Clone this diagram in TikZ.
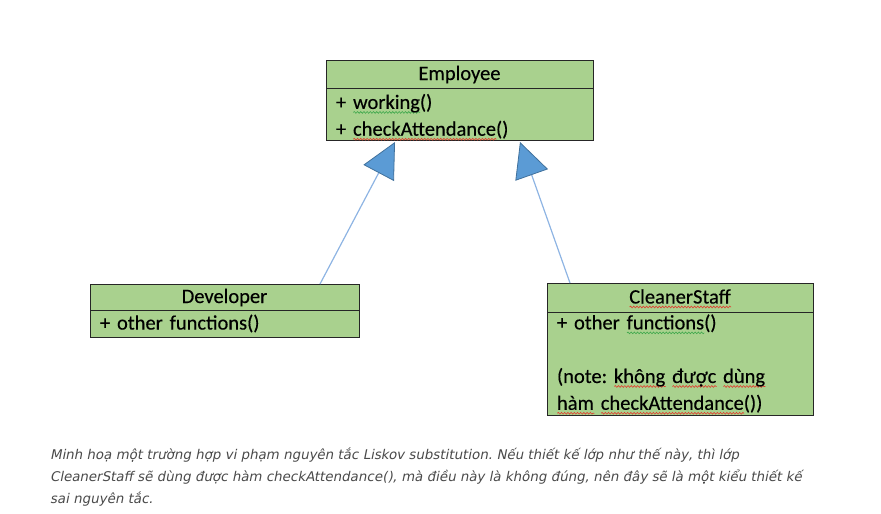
\documentclass[tikz,border=0pt]{standalone}
\usepackage{fontspec}
\usetikzlibrary{arrows.meta,decorations.pathmorphing}
\newfontfamily\umlfont{Carlito}[FakeBold=0.3]
\newfontfamily\notefont{DejaVu Sans}[FakeSlant=0.2]
\definecolor{umlgreen}{HTML}{A9D18E}
\definecolor{umlline}{HTML}{262626}
\definecolor{arrowfill}{HTML}{5B9BD5}
\definecolor{arrowedge}{HTML}{41719C}
\definecolor{arrowline}{HTML}{8EB4E3}
\definecolor{squigred}{HTML}{E23B2E}
\definecolor{squiggreen}{HTML}{3DA84A}
\definecolor{notegray}{HTML}{4A4A4A}
\newsavebox{\sqbox}
% word with a spell-check squiggle under it
\newcommand{\sq}[2]{\leavevmode\sbox{\sqbox}{#2}\rlap{\smash{\tikz[baseline=0pt]\draw[#1, line width=0.6pt, decorate,
	decoration={snake, amplitude=0.9pt, segment length=3.2pt}] (0pt,-3.5pt) -- (\wd\sqbox,-3.5pt);}}\usebox{\sqbox}}

\begin{document}
\begin{tikzpicture}[x=1pt,y=-1pt,
		classbox/.style={draw=umlline, fill=umlgreen, line width=0.9pt, outer sep=0pt,
			font=\umlfont\fontsize{20.5}{26.8}\selectfont\frenchspacing},
		classhead/.style={classbox, inner sep=0pt, text height=14pt, text depth=2pt},
		classbody/.style={classbox, align=left, inner xsep=10pt, inner ysep=0pt},
		inherit/.style={draw=arrowline, line width=1.2pt,
			-{Triangle[length=35pt,width=34.5pt,fill=arrowfill,color=arrowedge,line width=0.8pt]}},
		note/.style={inner sep=0pt, align=left, text=notegray,
			font=\notefont\fontsize{13.4}{22}\selectfont\frenchspacing}]
	\useasboundingbox (0,0) rectangle (881,514);
	% base class
	\node[classhead, anchor=north west, minimum width=267pt, minimum height=28pt] (employee) at (326,60) {Employee};
	\node[classbody, anchor=north, minimum width=267pt, minimum height=52pt, text width=247pt] (employee-ops) at (employee.south)
		{\rule{0pt}{19.5pt}+ \sq{squiggreen}{working}()\\+ \sq{squigred}{checkAttendance}()};
	% subclasses
	\node[classhead, anchor=north west, minimum width=269pt, minimum height=26pt] (developer) at (90,284) {Developer};
	\node[classbody, anchor=north, minimum width=269pt, minimum height=27pt, text width=249pt] (developer-ops) at (developer.south)
		{+ other functions()};
	\node[classhead, anchor=north west, minimum width=266pt, minimum height=29pt] (cleaner) at (547,283) {\sq{squigred}{CleanerStaff}};
	\node[classbody, anchor=north, minimum width=266pt, minimum height=103pt, text width=246pt] (cleaner-ops) at (cleaner.south)
		{+ other \sq{squiggreen}{functions}()\\[26.8pt](note: \sq{squigred}{không} \sq{squigred}{được} \sq{squigred}{dùng}\\
		\sq{squigred}{hàm} \sq{squigred}{checkAttendance}())};
	\path
		([xshift=-39pt]developer.north east) edge[inherit] ([xshift=69pt,yshift=-2pt]employee-ops.south west)
		([xshift=23pt]cleaner.north west) edge[inherit] ([xshift=194pt,yshift=-2pt]employee-ops.south west);
	% caption
	\node[note, anchor=north west] (caption) at (50,448)
		{Minh hoạ một trường hợp vi phạm nguyên tắc Liskov substitution. Nếu thiết kế lớp như thế này, thì lớp\\
		CleanerStaff sẽ dùng được hàm checkAttendance(), mà điều này là không đúng, nên đây sẽ là một kiểu thiết kế\\
		sai nguyên tắc.};
\end{tikzpicture}
\end{document}
